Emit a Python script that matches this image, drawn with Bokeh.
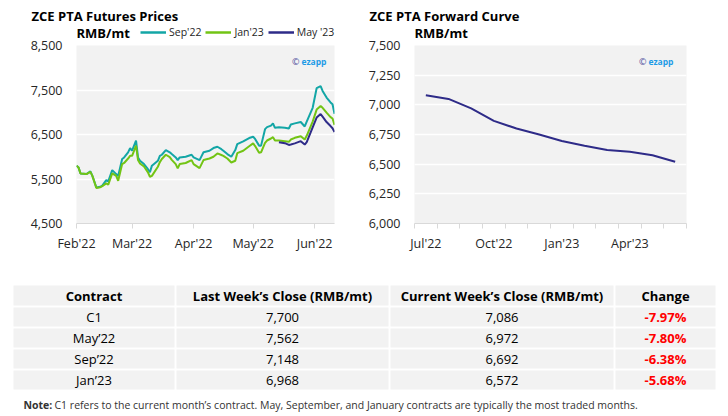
from datetime import datetime
import pandas as pd
from bokeh.plotting import figure
from bokeh.models import (Range1d, FixedTicker, NumeralTickFormatter, DatetimeTickFormatter,
                          Label, Legend, LegendItem, ColumnDataSource)
from bokeh.layouts import column, row
from bokeh.embed import file_html
from bokeh.resources import INLINE
from bokeh.core.properties import value

FONT = "Open Sans"

# ---------------- data ----------------
fut_dates = ["2022-02-01", "2022-02-02", "2022-02-03", "2022-02-06", "2022-02-08", "2022-02-09",
             "2022-02-11", "2022-02-13", "2022-02-14", "2022-02-16", "2022-02-17", "2022-02-19",
             "2022-02-21", "2022-02-22", "2022-02-24", "2022-02-25", "2022-02-27", "2022-02-28",
             "2022-03-01", "2022-03-03", "2022-03-04", "2022-03-05", "2022-03-07", "2022-03-09",
             "2022-03-10", "2022-03-11", "2022-03-14", "2022-03-15", "2022-03-16", "2022-03-18",
             "2022-03-20", "2022-03-21", "2022-03-23", "2022-03-24", "2022-03-25", "2022-03-28",
             "2022-03-31", "2022-04-01", "2022-04-04", "2022-04-06", "2022-04-09", "2022-04-11",
             "2022-04-13", "2022-04-15", "2022-04-16", "2022-04-18", "2022-04-20", "2022-04-22",
             "2022-04-23", "2022-04-26", "2022-04-29", "2022-05-01", "2022-05-02", "2022-05-04",
             "2022-05-05", "2022-05-07", "2022-05-08", "2022-05-10", "2022-05-11", "2022-05-12",
             "2022-05-14", "2022-05-17", "2022-05-19", "2022-05-20", "2022-05-22", "2022-05-25",
             "2022-05-27", "2022-05-28", "2022-05-31", "2022-06-02", "2022-06-04", "2022-06-05",
             "2022-06-07", "2022-06-09", "2022-06-10", "2022-06-11"]

sep22 = [5800, 5760, 5625, 5610, 5670, 5570, 5310, 5325, 5350, 5475, 5445, 5700, 5610, 5570, 5950, 5985, 6100, 6195,
         6135, 6360, 5985, 5910, 5835, 5720, 5650, 5800, 5910, 6020, 6045, 6150, 6100, 6060, 5985, 5925, 5985, 6000, 6045,
         5985, 5925, 6100, 6135, 6195, 6225, 6170, 6135, 6060, 6000, 6150, 6285, 6345, 6420,
         6450, 6400, 6250, 6250, 6620, 6665, 6700, 6750, 6650, 6665, 6650, 6635, 6725, 6750, 6780, 6680, 6790, 7100,
         7540, 7585, 7480, 7330, 7220, 7180, 6966]

jan23 = [5800, 5760, 5625, 5610, 5660, 5570, 5300, 5315, 5340, 5400, 5370, 5625, 5570, 5460, 5835, 5860, 5960, 6020,
         6020, 6250, 5925, 5850, 5780, 5650, 5550, 5570, 5775, 5880, 5950, 6045, 5990, 5930, 5835, 5740, 5835, 5860, 5925,
         5835, 5745, 5925, 5960, 6000, 6075, 6040, 6020, 5960, 5870, 5910, 6080, 6135, 6235,
         6300, 6240, 6090, 6100, 6310, 6365, 6410, 6440, 6365, 6365, 6350, 6335, 6387, 6425, 6462, 6387, 6470, 6790,
         7060, 7140, 7100, 6990, 6890, 6860, 6715]

may23_dates = ["2022-05-14", "2022-05-17", "2022-05-19", "2022-05-20", "2022-05-22", "2022-05-25",
               "2022-05-27", "2022-05-28", "2022-05-31", "2022-06-02", "2022-06-04", "2022-06-05",
               "2022-06-07", "2022-06-09", "2022-06-10", "2022-06-11"]
may23 = [6327, 6305, 6265, 6275, 6300, 6350, 6275, 6330, 6660, 6880, 6960, 6900, 6780, 6690, 6640, 6555]

series_names = ["Sep'22", "Jan'23", "May '23"]

fwd_months = ["Jul'22", "Aug'22", "Sep'22", "Oct'22", "Nov'22", "Dec'22",
              "Jan'23", "Feb'23", "Mar'23", "Apr'23", "May'23", "Jun'23"]
fwd_prices = [7080, 7050, 6970, 6865, 6800, 6750, 6695, 6655, 6620, 6605, 6575, 6520]
fwd_label_every = 3

chart_titles = ["ZCE PTA Futures Prices", "ZCE PTA Forward Curve"]
unit_label = "RMB/mt"

table_headers = ["Contract", "Last Week\u2019s Close (RMB/mt)", "Current Week\u2019s Close (RMB/mt)", "Change"]
contracts = ["C1", "May\u201922", "Sep\u201922", "Jan\u201923"]
last_close = [7700, 7562, 7148, 6968]
curr_close = [7086, 6972, 6692, 6572]
change_pct = [-7.97, -7.80, -6.38, -5.68]
note_head = "Note:"
note_text = "C1 refers to the current month\u2019s contract. May, September, and January contracts are typically the most traded months."

# ---------------- styles ----------------
TEAL = "#13a6a6"
GREEN = "#72c414"
NAVY = "#2e2b88"
BG = "#f2f2f2"
TXT = "#262626"
AXIS = "#d9d9d9"
PW = 364          # width of each chart
HH = 45           # header strip height
OV = 8            # chart row overlaps the header strip by this much
CH = 226          # chart figure height
FT = HH - OV      # chart frame top inside chart figure -> 37? (frame top at screen y 45)
FT = OV           # frame top offset inside the chart figure
ROW2 = 32.5       # y of the units / legend line in the header strip


def style_common(p):
    p.background_fill_color = BG
    p.border_fill_alpha = 0
    p.outline_line_color = None
    p.xgrid.grid_line_color = None
    p.ygrid.grid_line_color = "white"
    p.ygrid.grid_line_width = 1.5
    p.yaxis.axis_line_color = None
    p.yaxis.major_tick_line_color = None
    p.yaxis.minor_tick_line_color = None
    p.yaxis.major_tick_out = 0
    p.yaxis.major_tick_in = 0
    p.yaxis.major_label_standoff = 14
    p.yaxis.formatter = NumeralTickFormatter(format="0,0")
    for ax in (p.xaxis, p.yaxis):
        ax.major_label_text_font = FONT
        ax.major_label_text_font_size = "12.5px"
        ax.major_label_text_color = TXT
    p.xaxis.axis_line_color = AXIS
    p.xaxis.major_tick_line_color = AXIS
    p.xaxis.minor_tick_line_color = AXIS
    p.xaxis.major_tick_out = 5
    p.xaxis.major_tick_in = 0
    p.xaxis.minor_tick_in = 0
    p.xaxis.major_label_standoff = 6


def watermark(p, x):
    p.add_layout(Label(x=x, y=162, x_units="screen", y_units="screen", text="ezapp",
                       text_font=FONT, text_font_size="8.5px", text_font_style="bold",
                       text_color="#1e9be6", text_align="right", text_baseline="middle"))
    p.add_layout(Label(x=x - 27, y=162, x_units="screen", y_units="screen", text="\u00a9",
                       text_font=FONT, text_font_size="9px", text_color="#4b4b9b",
                       text_align="right", text_baseline="middle"))


# ---------------- header strip (titles, units, legend) ----------------
hdr_fig = figure(width=2 * PW, height=HH, x_range=Range1d(0, 2 * PW), y_range=Range1d(HH, 0),
                 x_axis_location=None, y_axis_location=None, min_border=0, title=None,
                 output_backend="svg", toolbar_location=None)
hdr_fig.grid.visible = False
hdr_fig.outline_line_color = None
hdr_fig.background_fill_color = "white"
hdr_fig.text(x=[31, PW + 5], y=[15, 15], text=chart_titles, text_font=value(FONT),
             text_font_size="13px", text_font_style="bold", text_baseline="middle", text_color="black")
hdr_fig.text(x=[76, PW + 50], y=[ROW2, ROW2], text=[unit_label, unit_label], text_font=value(FONT),
             text_font_size="13px", text_font_style="bold", text_baseline="middle", text_color="black")
# legend swatches: renderers carry the colours, their points lie outside the strip's view
leg_r = [hdr_fig.line(x=[-50, -40], y=[-50, -50], line_color=c, line_width=2.5) for c in (TEAL, GREEN, NAVY)]
legend = Legend(items=[LegendItem(label=n, renderers=[r]) for n, r in zip(series_names, leg_r)],
                orientation="horizontal", location=(140, HH - ROW2 - 6),
                background_fill_alpha=0, border_line_color=None,
                padding=0, margin=0, spacing=4, label_standoff=3,
                glyph_width=26, glyph_height=12, label_height=12,
                label_text_font=FONT, label_text_font_size="10.5px", label_text_color=TXT)
hdr_fig.add_layout(legend)

# ---------------- left chart ----------------
p1 = figure(width=PW, height=CH, x_axis_type="datetime", title=None,
            x_range=Range1d(datetime(2022, 2, 1), datetime(2022, 6, 11)),
            y_range=Range1d(4500, 8500),
            min_border_left=76, min_border_right=30, min_border_top=FT, min_border_bottom=CH - FT - 178,
            output_backend="svg", toolbar_location=None)
style_common(p1)
d1 = pd.to_datetime(fut_dates)
d2 = pd.to_datetime(may23_dates)
p1.line(d1, sep22, line_color=TEAL, line_width=2)
p1.line(d1, jan23, line_color=GREEN, line_width=2)
p1.line(d2, may23, line_color=NAVY, line_width=2)
month_ticks = [pd.Timestamp(f"2022-{m:02d}-01").value / 1e6 for m in range(2, 7)]
p1.xaxis.ticker = FixedTicker(ticks=month_ticks)
p1.xaxis.formatter = DatetimeTickFormatter(days="%b'%y", months="%b'%y", years="%b'%y")
p1.yaxis.ticker = FixedTicker(ticks=[4500, 5500, 6500, 7500, 8500])
p1.ygrid.ticker = FixedTicker(ticks=[5500, 6500, 7500])
watermark(p1, 250)

# ---------------- right chart ----------------
p2 = figure(width=PW, height=CH, title=None,
            x_range=Range1d(0, len(fwd_months)), y_range=Range1d(6000, 7500),
            min_border_left=50, min_border_right=42, min_border_top=FT, min_border_bottom=CH - FT - 178,
            output_backend="svg", toolbar_location=None)
style_common(p2)
xs = [i + 0.5 for i in range(len(fwd_months))]
p2.line(xs, fwd_prices, line_color=NAVY, line_width=2)
lab_pos = [i + 0.5 for i in range(0, len(fwd_months), fwd_label_every)]
p2.xaxis.ticker = FixedTicker(ticks=lab_pos, minor_ticks=list(range(len(fwd_months) + 1)))
p2.xaxis.major_label_overrides = {i + 0.5: fwd_months[i] for i in range(0, len(fwd_months), fwd_label_every)}
p2.xaxis.major_tick_line_color = None
p2.xaxis.minor_tick_out = 5
p2.xaxis.major_tick_out = 5
yt = [6000, 6250, 6500, 6750, 7000, 7250, 7500]
p2.yaxis.ticker = FixedTicker(ticks=yt)
p2.ygrid.ticker = FixedTicker(ticks=yt[1:])
watermark(p2, 259)

# ---------------- table ----------------
TW, TH = 2 * PW, 416 - (HH - OV) - CH
p3 = figure(width=TW, height=TH, x_range=Range1d(0, TW), y_range=Range1d(TH, 0),
            x_axis_location=None, y_axis_location=None, min_border=0, title=None,
            output_backend="svg", toolbar_location=None)
p3.grid.visible = False
p3.outline_line_color = None
p3.background_fill_color = "white"

col_edges = [12, 175, 389, 614, 716]
row_edges = [21, 43, 64, 85, 106, 127]
ncol = len(col_edges) - 1
nrow = len(row_edges) - 1
ql, qr, qt, qb = [], [], [], []
for r in range(nrow):
    for c in range(ncol):
        ql.append(col_edges[c] + 1); qr.append(col_edges[c + 1] - 1)
        qt.append(row_edges[r] + 1); qb.append(row_edges[r + 1] - 1)
p3.quad(left=ql, right=qr, top=qt, bottom=qb, fill_color=BG, line_color=None)

centers = [(col_edges[c] + col_edges[c + 1]) / 2 for c in range(ncol)]
rmid = [(row_edges[r] + row_edges[r + 1]) / 2 for r in range(nrow)]

hdr = ColumnDataSource(dict(x=centers, y=[rmid[0]] * ncol, t=table_headers))
p3.text(x="x", y="y", text="t", source=hdr, text_font=value(FONT), text_font_size="13px",
        text_font_style="bold", text_align="center", text_baseline="middle", text_color="black")

bx, by, bt = [], [], []
for i in range(len(contracts)):
    for c, t in enumerate([contracts[i], f"{last_close[i]:,}", f"{curr_close[i]:,}"]):
        bx.append(centers[c]); by.append(rmid[i + 1]); bt.append(t)
body = ColumnDataSource(dict(x=bx, y=by, t=bt))
p3.text(x="x", y="y", text="t", source=body, text_font=value(FONT), text_font_size="13px",
        text_align="center", text_baseline="middle", text_color="black")

chg = ColumnDataSource(dict(x=[centers[3]] * len(change_pct), y=rmid[1:],
                            t=[f"{v:.2f}%" for v in change_pct]))
p3.text(x="x", y="y", text="t", source=chg, text_font=value(FONT), text_font_size="13px",
        text_font_style="bold", text_align="center", text_baseline="middle", text_color="#ff0000")

p3.text(x=[23], y=[141], text=[note_head], text_font=value(FONT), text_font_size="10.5px",
        text_font_style="bold", text_baseline="middle", text_color="#333333")
p3.text(x=[54], y=[141], text=[note_text], text_font=value(FONT), text_font_size="10.5px",
        text_baseline="middle", text_color="#333333")

charts = row(p1, p2, margin=(-OV, 0, 0, 0))
layout = column(hdr_fig, charts, p3)
open("out.html", "w").write(file_html(layout, INLINE))
